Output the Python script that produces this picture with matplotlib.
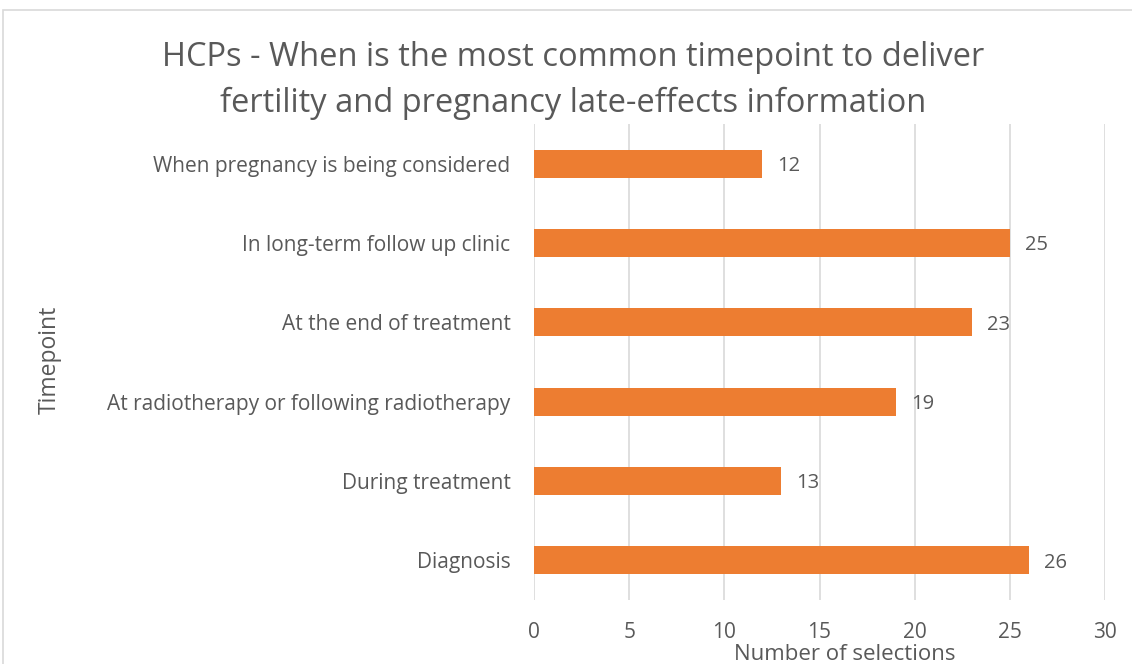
import matplotlib.pyplot as plt
from matplotlib.patches import Rectangle

categories = ["Diagnosis", "During treatment", "At radiotherapy or following radiotherapy",
              "At the end of treatment", "In long-term follow up clinic",
              "When pregnancy is being considered"]
values = [26, 13, 19, 23, 25, 12]
xticks = [0, 5, 10, 15, 20, 25, 30]

txt = "#595959"
orange = "#ED7D31"
plt.rcParams['font.family'] = ['Open Sans', 'DejaVu Sans']

fig = plt.figure(figsize=(11.32, 6.64), dpi=100)
W, H = 1132, 664
ax = fig.add_axes([534 / W, 1 - 600 / H, (1105 - 534) / W, (600 - 124) / H])

ypos = list(range(len(categories)))
ax.barh(ypos, values, height=0.35, color=orange, zorder=3)
for y, v in zip(ypos, values):
    ax.text(v + 0.8, y - 0.03, str(v), va='center', ha='left', fontsize=14.5, color=txt)

ax.set_xlim(0, 30)
ax.set_ylim(-0.5, len(categories) - 0.5)
ax.set_xticks(xticks)
ax.set_yticks(ypos)
ax.set_yticklabels(categories)
ax.tick_params(axis='both', length=0, labelsize=15, labelcolor=txt)
ax.tick_params(axis='x', pad=16)
ax.tick_params(axis='y', pad=17)
ax.grid(axis='x', color='#D9D9D9', linewidth=1.2, zorder=0)
for s in ax.spines.values():
    s.set_visible(False)

fig.text(845 / W, 1 - 655 / H, "Number of selections", ha='center', va='center',
         fontsize=16, color=txt)
fig.text(50 / W, 1 - 360 / H, "Timepoint", ha='center', va='center', rotation=90,
         fontsize=16.5, color=txt)
fig.text(573 / W, 1 - 58 / H, "HCPs - When is the most common timepoint to deliver",
         ha='center', va='center', fontsize=23.5, color=txt)
fig.text(573 / W, 1 - 103 / H, "fertility and pregnancy late-effects information",
         ha='center', va='center', fontsize=23.5, color=txt)

fig.patches.append(Rectangle((3 / W, -0.05), 1.2, 1 - 10 / H + 0.05, transform=fig.transFigure,
                             fill=False, edgecolor='#D9D9D9', linewidth=1.2))

fig.savefig("out.png", dpi=100)
